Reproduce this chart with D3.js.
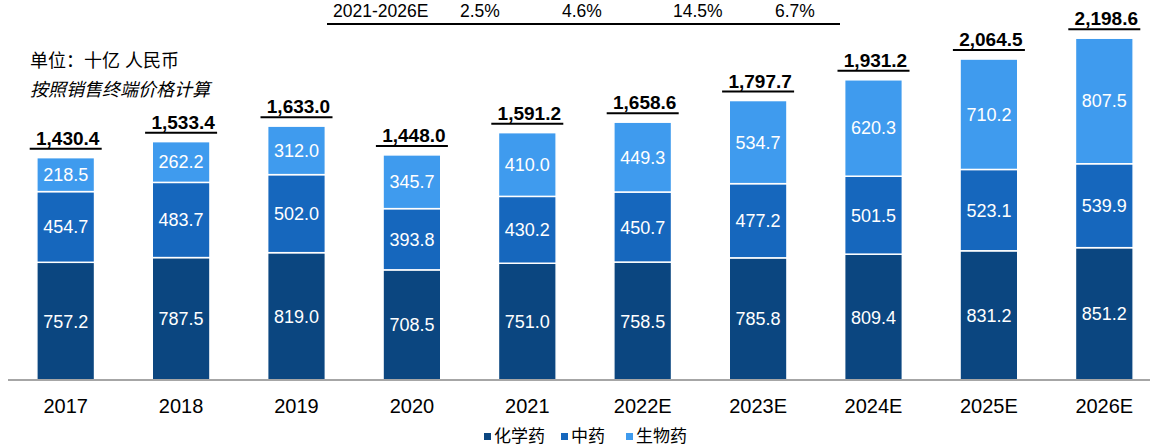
<!DOCTYPE html>
<html>
<head>
<meta charset="utf-8">
<script src="https://cdn.jsdelivr.net/npm/d3@7"></script>
<style>
    body { margin: 0; background: #fff; }
    svg { display: block; font-family: Arial, "Liberation Sans", "Noto Sans CJK SC", sans-serif; }
</style>
</head>
<body>
<div id="chart"></div>
<script>
// market size by segment, bn RMB
const years = ["2017", "2018", "2019", "2020", "2021", "2022E", "2023E", "2024E", "2025E", "2026E"];
const chemical = [757.2, 787.5, 819.0, 708.5, 751.0, 758.5, 785.8, 809.4, 831.2, 851.2];
const tcm = [454.7, 483.7, 502.0, 393.8, 430.2, 450.7, 477.2, 501.5, 523.1, 539.9];
const biologic = [218.5, 262.2, 312.0, 345.7, 410.0, 449.3, 534.7, 620.3, 710.2, 807.5];
const totals = [1430.4, 1533.4, 1633.0, 1448.0, 1591.2, 1658.6, 1797.7, 1931.2, 2064.5, 2198.6];

const seriesNames = ["化学药", "中药", "生物药"];
const colors = ["#0b4680", "#1667bd", "#3f9bee"];

const cagrLabel = "2021-2026E";
const cagrValues = ["2.5%", "4.6%", "14.5%", "6.7%"];

const width = 1150, height = 447;
const baseY = 380;

const svg = d3.select("#chart").append("svg")
    .attr("width", width)
    .attr("height", height);

const x = d3.scaleBand()
    .domain(years)
    .range([8, 1162])
    .paddingInner(0.5)
    .paddingOuter(0.25);

const y = d3.scaleLinear()
    .domain([0, 2200])
    .range([baseY, 38]);

// stack the three series
const rows = years.map((yr, i) => ({ year: yr, s0: chemical[i], s1: tcm[i], s2: biologic[i] }));
const stacked = d3.stack().keys(["s0", "s1", "s2"])(rows);

const layers = svg.selectAll("g.layer")
    .data(stacked)
    .join("g")
    .attr("class", "layer")
    .attr("fill", (d, i) => colors[i]);

layers.selectAll("rect")
    .data(d => d)
    .join("rect")
    .attr("x", d => x(d.data.year))
    .attr("width", x.bandwidth())
    .attr("y", d => y(d[1]))
    .attr("height", d => y(d[0]) - y(d[1]))
    .attr("stroke", "#fff")
    .attr("stroke-width", 1.5);

// segment value labels
layers.selectAll("text")
    .data(d => d.map(p => ({ p: p, key: d.key })))
    .join("text")
    .attr("x", d => x(d.p.data.year) + x.bandwidth() / 2)
    .attr("y", d => (y(d.p[0]) + y(d.p[1])) / 2)
    .attr("dy", "0.36em")
    .attr("text-anchor", "middle")
    .attr("fill", "#fff")
    .attr("font-size", 18)
    .text(d => d.p.data[d.key].toFixed(1));

// baseline
svg.append("line")
    .attr("x1", 8).attr("x2", width)
    .attr("y1", baseY).attr("y2", baseY)
    .attr("stroke", "#a6a6a6")
    .attr("stroke-width", 2);

// year labels
svg.selectAll("text.year")
    .data(years)
    .join("text")
    .attr("class", "year")
    .attr("x", d => x(d) + x.bandwidth() / 2)
    .attr("y", 413)
    .attr("text-anchor", "middle")
    .attr("font-size", 20)
    .attr("fill", "#000")
    .text(d => d);

// totals with underline
const fmt = d3.format(",.1f");
const totalG = svg.selectAll("g.total")
    .data(years)
    .join("g")
    .attr("class", "total")
    .attr("transform", (d, i) => `translate(${x(d) + x.bandwidth() / 2},${y(totals[i])})`);

totalG.append("text")
    .attr("x", 2)
    .attr("y", -13)
    .attr("text-anchor", "middle")
    .attr("font-size", 19)
    .attr("font-weight", "bold")
    .attr("fill", "#000")
    .text((d, i) => fmt(totals[i]));

totalG.append("line")
    .attr("x1", -36).attr("x2", 36)
    .attr("y1", -9).attr("y2", -9)
    .attr("stroke", "#000")
    .attr("stroke-width", 2);

// unit note
svg.append("text")
    .attr("x", 30).attr("y", 67)
    .attr("font-size", 18)
    .attr("fill", "#000")
    .text("单位：十亿 人民币");

svg.append("text")
    .attr("x", 30).attr("y", 96)
    .attr("font-size", 18)
    .attr("font-style", "italic")
    .attr("fill", "#000")
    .text("按照销售终端价格计算");

// CAGR row
const cagrX = [460, 562, 673, 775];
svg.append("text")
    .attr("x", 333).attr("y", 17)
    .attr("font-size", 17.5)
    .text(cagrLabel);
svg.selectAll("text.cagr")
    .data(cagrValues)
    .join("text")
    .attr("class", "cagr")
    .attr("x", (d, i) => cagrX[i])
    .attr("y", 17)
    .attr("font-size", 17.5)
    .text(d => d);
svg.append("line")
    .attr("x1", 327).attr("x2", 840)
    .attr("y1", 24).attr("y2", 24)
    .attr("stroke", "#000")
    .attr("stroke-width", 2);

// legend
const legendX = [484, 561, 626];
const legend = svg.selectAll("g.legend")
    .data(seriesNames)
    .join("g")
    .attr("class", "legend")
    .attr("transform", (d, i) => `translate(${legendX[i]},436)`);
legend.append("rect")
    .attr("x", 0).attr("y", -3)
    .attr("width", 7).attr("height", 7)
    .attr("fill", (d, i) => colors[i]);
legend.append("text")
    .attr("x", 10)
    .attr("dy", "0.36em")
    .attr("font-size", 17)
    .text(d => d);
</script>
</body>
</html>
